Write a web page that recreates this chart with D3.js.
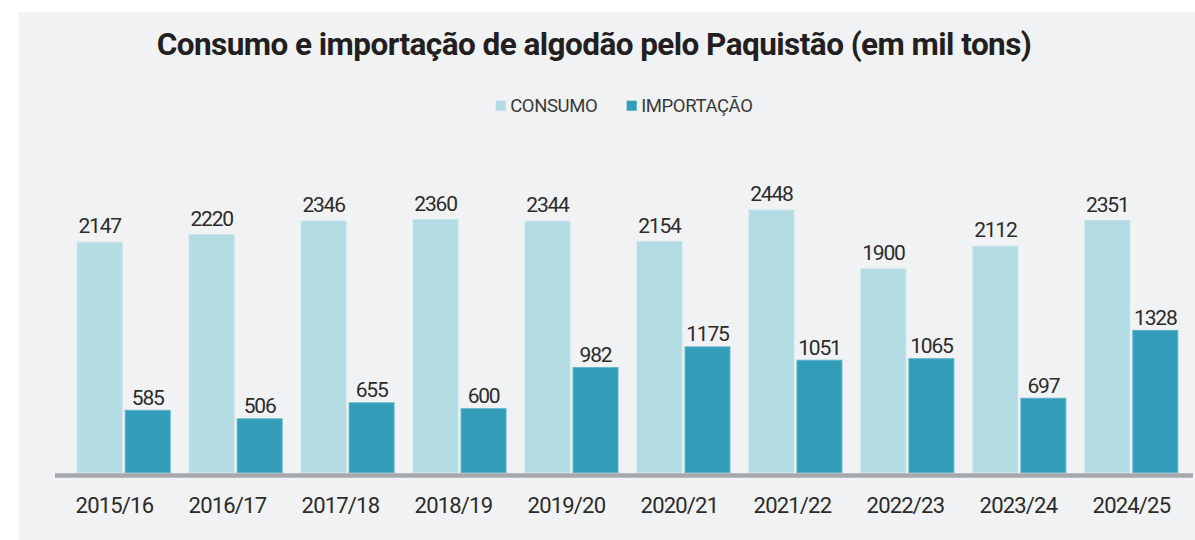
<!DOCTYPE html>
<html>
<head>
<meta charset="utf-8">
<script src="https://cdn.jsdelivr.net/npm/d3@7"></script>
<style>
  body { margin: 0; background: #fff; }
  svg { display: block; }
</style>
</head>
<body>
<svg width="1195" height="540"></svg>
<script>
// dados (mil toneladas)
var safras = ["2015/16", "2016/17", "2017/18", "2018/19", "2019/20", "2020/21", "2021/22", "2022/23", "2023/24", "2024/25"];
var consumo = [2147, 2220, 2346, 2360, 2344, 2154, 2448, 1900, 2112, 2351];
var importacao = [585, 506, 655, 600, 982, 1175, 1051, 1065, 697, 1328];
var series = ["consumo", "importacao"];
var seriesLabels = ["CONSUMO", "IMPORTAÇÃO"];

var svg = d3.select("svg");
var width = +svg.attr("width"), height = +svg.attr("height");
var color = d3.scaleOrdinal().domain(series).range(["#b2dbe4", "#339db9"]);
var stroke = d3.scaleOrdinal().domain(series).range(["#c4e3ea", "#5cb3cb"]);

svg.append("rect")
    .attr("x", 19).attr("y", 12)
    .attr("width", width - 19).attr("height", height - 12)
    .attr("fill", "#f1f2f4");

var rows = safras.map(function (s, i) {
    return {safra: s, consumo: consumo[i], importacao: importacao[i]};
});

var x0 = d3.scaleBand().domain(safras).range([76.7, 1178.3]).paddingInner(0.1607).paddingOuter(0);
var x1 = d3.scaleBand().domain(series).range([0, x0.bandwidth()]).paddingInner(0.0426);
var y = d3.scaleLinear().domain([0, 2500]).range([472.7, 203.95]);
var xLabel = d3.scalePoint().domain(safras).range([113.9, 1130.9]);

// titulo
svg.append("text")
    .attr("x", 594).attr("y", 54.5)
    .attr("text-anchor", "middle")
    .style("font-family", "Roboto")
    .style("font-weight", 700)
    .style("font-size", "31.5px")
    .style("letter-spacing", "-0.55px")
    .attr("fill", "#231f20")
    .text("Consumo e importação de algodão pelo Paquistão (em mil tons)");

// legenda
var legendX = [495.7, 626.7];
var legend = svg.append("g").selectAll("g").data(series).enter().append("g")
    .attr("transform", function (d, i) { return "translate(" + legendX[i] + ",100.7)"; });
legend.append("rect")
    .attr("width", 10).attr("height", 10)
    .attr("fill", function (d) { return color(d); });
legend.append("text")
    .attr("x", 14.5).attr("y", 11)
    .style("font-family", "Roboto")
    .style("font-size", "18.5px")
    .style("letter-spacing", "-0.4px")
    .attr("fill", "#3a3a3a")
    .text(function (d, i) { return seriesLabels[i]; });

// barras
var groups = svg.append("g").selectAll("g").data(rows).enter().append("g")
    .attr("transform", function (d) { return "translate(" + x0(d.safra) + ",0)"; });

var cells = groups.selectAll("g").data(function (d) {
    return series.map(function (k) { return {key: k, value: d[k]}; });
}).enter().append("g");

cells.append("rect")
    .attr("x", function (d) { return x1(d.key) + 0.5; })
    .attr("y", function (d) { return y(d.value) + 0.5; })
    .attr("width", x1.bandwidth() - 1)
    .attr("height", function (d) { return y(0) - y(d.value) - 0.5; })
    .attr("fill", function (d) { return color(d.key); })
    .attr("stroke", function (d) { return stroke(d.key); })
    .attr("stroke-width", 1);

cells.append("text")
    .attr("x", function (d) { return x1(d.key) + x1.bandwidth() / 2; })
    .attr("y", function (d) { return y(d.value) - (d.key === "consumo" ? 8.4 : 5); })
    .attr("text-anchor", "middle")
    .style("font-family", "Roboto")
    .style("font-size", "21px")
    .style("letter-spacing", "-1.2px")
    .attr("fill", "#2b2b2b")
    .text(function (d) { return d.value; });

// linha de base
svg.append("line")
    .attr("x1", 55).attr("x2", 1193)
    .attr("y1", 475.5).attr("y2", 475.5)
    .attr("stroke", "#a7a8ab")
    .attr("stroke-width", 4.5);

// eixo x
var axis = svg.append("g")
    .attr("transform", "translate(0,480)")
    .call(d3.axisBottom(xLabel).tickSize(0).tickPadding(0));
axis.select(".domain").remove();
axis.selectAll("text")
    .attr("dy", null)
    .attr("y", 32.7)
    .style("font-family", "Roboto")
    .style("font-size", "22px")
    .style("letter-spacing", "-0.8px")
    .attr("fill", "#2b2b2b");
</script>
</body>
</html>
